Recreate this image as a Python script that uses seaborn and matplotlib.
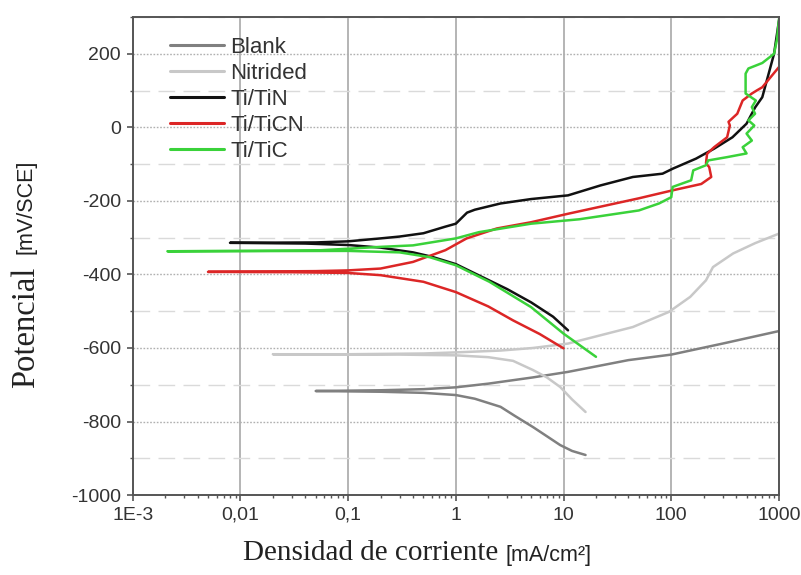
import numpy as np
import pandas as pd
import seaborn as sns
import matplotlib.pyplot as plt
from matplotlib.ticker import LogLocator, MultipleLocator, NullFormatter

# Tafel curves: current density [mA/cm2], potential [mV/SCE]
# cathodic branch goes from high current down to i_corr, anodic goes back up

blank_cath_i = [16, 12, 9.3, 7, 5.2, 3.5, 2.6, 1.5, 1, 0.5, 0.2, 0.05]
blank_cath_e = [-891, -880, -864, -840, -815, -784, -760, -738, -728, -722, -719, -717]
blank_anod_i = [0.05, 0.2, 0.5, 1, 2, 5.2, 11, 40, 100, 300, 1000]
blank_anod_e = [-717, -715, -712, -707, -697, -680, -665, -633, -618, -588, -554]

nitr_cath_i = [16, 12, 9.3, 7, 5.2, 3.4, 2, 1, 0.3, 0.02]
nitr_cath_e = [-774, -740, -706, -680, -660, -635, -625, -620, -618, -617]
nitr_anod_i = [0.02, 0.1, 0.5, 1, 2.6, 5.2, 11, 44, 95, 150, 210, 244, 375, 600, 1000]
nitr_anod_e = [-617, -617, -615, -612, -607, -600, -588, -543, -502, -461, -416, -380, -343, -315, -289]

tin_cath_i = [11, 8, 5, 3, 2, 1, 0.6, 0.4, 0.2, 0.1, 0.04, 0.008]
tin_cath_e = [-552, -515, -476, -440, -415, -372, -352, -340, -327, -320, -316, -314]
tin_anod_i = [0.008, 0.05, 0.1, 0.2, 0.3, 0.5, 0.8, 1, 1.27, 1.5, 2.6, 5, 11, 22, 44, 83,
              104, 170, 250, 370, 500, 600, 700, 900, 1000]
tin_anod_e = [-314, -313, -310, -302, -297, -288, -270, -262, -232, -224, -207, -195, -185,
              -158, -135, -126, -112, -85, -58, -27, 10, 54, 82, 200, 290]

ticn_cath_i = [10, 6, 3.4, 2, 1, 0.5, 0.2, 0.1, 0.03, 0.005]
ticn_cath_e = [-601, -562, -525, -487, -448, -420, -402, -396, -394, -393]
ticn_anod_i = [0.005, 0.05, 0.1, 0.2, 0.4, 0.8, 1.26, 2.4, 5, 11, 50, 104, 190, 235, 225,
               210, 215, 250, 330, 350, 340, 410, 460, 560, 620, 700, 1000]
ticn_anod_e = [-393, -391, -389, -384, -366, -334, -302, -275, -258, -235, -193, -171, -154,
               -135, -108, -98, -72, -54, -27, 5, 15, 37, 73, 92, 100, 109, 164]

tic_cath_i = [20, 10, 5, 2.05, 1, 0.57, 0.3, 0.1, 0.0021]
tic_cath_e = [-624, -561, -489, -420, -375, -353, -340, -336, -337]
tic_anod_i = [0.0021, 0.05, 0.2, 0.4, 1, 1.64, 5, 14, 50, 77, 100, 103, 153, 160, 210, 220,
              330, 500, 460, 560, 500, 590, 520, 600, 560, 610, 490, 490, 520, 700, 900, 960, 1000]
tic_anod_e = [-337, -335, -325, -321, -302, -285, -262, -250, -226, -207, -190, -162, -144,
              -117, -103, -90, -81, -71, -54, -36, -17, 5, 19, 37, 55, 73, 92, 146, 160, 175,
              200, 240, 295]

samples = ["Blank", "Nitrided", "Ti/TiN", "Ti/TiCN", "Ti/TiC"]
colors = ["#808080", "#c8c8c8", "#111111", "#dc2626", "#3ad23a"]

xtick_vals = [1e-3, 1e-2, 1e-1, 1, 10, 100, 1000]
xtick_labels = ["1E-3", "0,01", "0,1", "1", "10", "100", "1000"]

branches = {
    "Blank": (blank_cath_i, blank_cath_e, blank_anod_i, blank_anod_e),
    "Nitrided": (nitr_cath_i, nitr_cath_e, nitr_anod_i, nitr_anod_e),
    "Ti/TiN": (tin_cath_i, tin_cath_e, tin_anod_i, tin_anod_e),
    "Ti/TiCN": (ticn_cath_i, ticn_cath_e, ticn_anod_i, ticn_anod_e),
    "Ti/TiC": (tic_cath_i, tic_cath_e, tic_anod_i, tic_anod_e),
}
frames = []
for name in samples:
    ci, ce, ai, ae = branches[name]
    frames.append(pd.DataFrame({"i": ci + ai, "E": ce + ae, "sample": name}))
df = pd.concat(frames, ignore_index=True)

sns.set_theme(style="white")
plt.rcParams["font.family"] = ["Liberation Sans", "DejaVu Sans"]
plt.rcParams["axes.unicode_minus"] = False

fig, ax = plt.subplots(figsize=(8.01, 5.75), dpi=100)
fig.subplots_adjust(left=0.1657, right=0.9725, bottom=0.139, top=0.9704)

sns.lineplot(data=df, x="i", y="E", hue="sample", hue_order=samples, palette=colors,
             sort=False, estimator=None, lw=1.8, ax=ax)

ax.set_xscale("log")
ax.set_xlim(1e-3, 1000)
ax.set_ylim(-1000, 300)
ax.set_xticks(xtick_vals, labels=xtick_labels)
ax.xaxis.set_minor_locator(LogLocator(base=10, subs=np.arange(2, 10)))
ax.xaxis.set_minor_formatter(NullFormatter())
ax.set_yticks(range(-1000, 201, 200))
ax.yaxis.set_minor_locator(MultipleLocator(100))

# grid: solid verticals at decades, dotted majors / dashed minors horizontally
ax.set_axisbelow(True)
ax.grid(which="major", axis="x", color="#a0a0a0", lw=1.1, ls="-")
ax.grid(which="major", axis="y", color="#b0b0b0", lw=1.0, ls=(0, (1.2, 1.2)))
ax.grid(which="minor", axis="y", color="#dadada", lw=1.0, ls=(0, (12, 6)))

ax.tick_params(which="major", direction="out", length=4.5, width=1.2, color="#555555",
               labelsize=14, labelcolor="#333333", pad=4,
               bottom=True, left=True)
ax.tick_params(which="minor", direction="out", length=2.5, width=1.0, color="#555555",
               bottom=True, left=True)
for sp in ax.spines.values():
    sp.set_color("#555555")
    sp.set_linewidth(1.4)

ax.set_xlabel("")
ax.set_ylabel("")

handles, labels = ax.get_legend_handles_labels()
leg = ax.legend(handles, labels, loc="upper left", bbox_to_anchor=(0.058, 0.958),
                frameon=False, fontsize=16, borderpad=0, borderaxespad=0,
                handlelength=2.4, handletextpad=0.3, labelspacing=0.22)
for line in leg.get_lines():
    line.set_linewidth(2.2)
for txt in leg.get_texts():
    txt.set_color("#333333")

# axis titles mix a serif word with a sans unit, as in the original
xl = fig.text(243 / 801, 1 - 560 / 575, "Densidad de corriente", family="Liberation Serif",
              size=21, color="#222222", ha="left", va="baseline")
ax.annotate("[mA/cm²]", xy=(1, 0), xycoords=xl, xytext=(5, 0), textcoords="offset points",
            ha="left", va="bottom", size=15.5, color="#222222")
yl = fig.text(26 / 801, 1 - 388 / 575, "Potencial", family="Liberation Serif", size=23.5,
              color="#222222", rotation=90, ha="center", va="bottom")
ax.annotate("[mV/SCE]", xy=(0.5, 1), xycoords=yl, xytext=(0, 9), textcoords="offset points",
            ha="center", va="bottom", rotation=90, size=15.5, color="#222222")

fig.savefig("out.png", dpi=100)
